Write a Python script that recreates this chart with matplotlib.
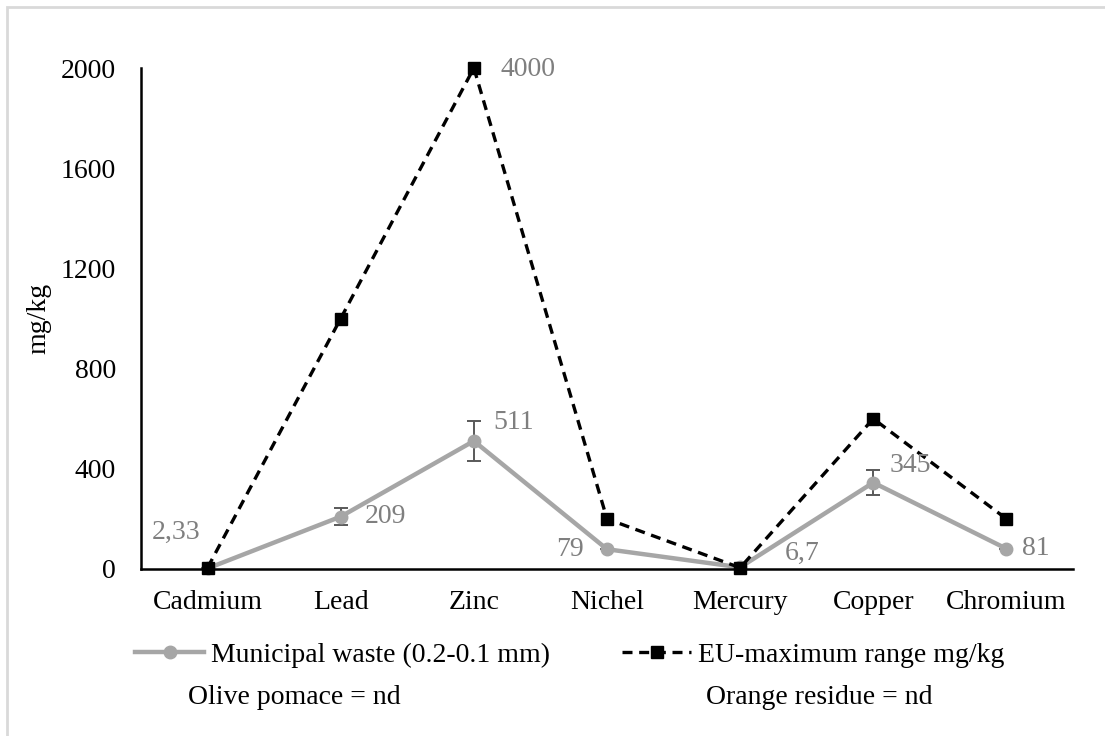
import matplotlib; matplotlib.use("Agg")
import matplotlib.pyplot as plt
from matplotlib.lines import Line2D
from matplotlib.patches import Rectangle

metals = ["Cadmium", "Lead", "Zinc", "Nichel", "Mercury", "Copper", "Chromium"]
municipal = [2.33, 209, 511, 79, 6.7, 345, 81]
municipal_err = [0, 34, 80, 0, 0, 50, 0]
municipal_lbl = ["2,33", "209", "511", "79", "6,7", "345", "81"]
eu_max = [5, 1000, 2000, 200, 5, 600, 200]
eu_lbl_zinc = "4000"
yticks = [0, 400, 800, 1200, 1600, 2000]

plt.rcParams["font.family"] = ["Liberation Serif", "DejaVu Serif"]
GRAY, LBL = "#a6a6a6", "#7f7f7f"
FS = 20

fig = plt.figure(figsize=(11.05, 7.36), dpi=100)
ax = fig.add_axes([141/1105, 1-569/736, (1073-141)/1105, (569-68)/736])
x = range(len(metals))

ax.errorbar(x, municipal, yerr=municipal_err, color=GRAY, lw=3.2, marker="o", ms=9,
            ecolor="#595959", elinewidth=1.4, capsize=5, capthick=1.4, zorder=2)
ax.plot(x, eu_max, color="black", ls=(0, (3, 2)), lw=2.4, marker="s", ms=8.5, zorder=3)

# label offsets in points (dx, dy, ha)
offs = [(-5, 26, "right"), (17, 0, "left"), (14, 13, "left"), (-17, 0, "right"),
        (32, 10, "left"), (12, 12, "left"), (11, 0, "left")]
for i, (dx, dy, ha) in enumerate(offs):
    ax.annotate(municipal_lbl[i], (i, municipal[i]), xytext=(dx, dy), textcoords="offset points",
                ha=ha, va="center", fontsize=FS, color=LBL, annotation_clip=False)
ax.annotate(eu_lbl_zinc, (2, eu_max[2]), xytext=(19, -1), textcoords="offset points",
            ha="left", va="center", fontsize=FS, color=LBL, annotation_clip=False)

ax.set_xlim(-0.5, 6.5)
ax.set_ylim(0, 2000)
ax.set_yticks(yticks)
ax.set_xticks(list(x))
ax.set_xticklabels(metals, fontsize=FS)
ax.tick_params(axis="y", labelsize=FS, length=0, pad=18)
ax.tick_params(axis="x", length=0, pad=15)
for s in ("top", "right"):
    ax.spines[s].set_visible(False)
for s in ("left", "bottom"):
    ax.spines[s].set_linewidth(1.8)
for a in ax.lines: a.set_clip_on(False)
ax.set_ylabel("mg/kg", fontsize=20, labelpad=7)

h1 = Line2D([], [], color=GRAY, lw=3.2, marker="o", ms=9)
h2 = Line2D([], [], color="black", ls=(0, (3, 2)), lw=2.4, marker="s", ms=8.5)
for h, t, x0 in ((h1, "Municipal waste (0.2-0.1 mm)", 135), (h2, "EU-maximum range mg/kg", 622)):
    fig.legend([h], [t], loc="center left", bbox_to_anchor=(x0/1105, 1-655/736), frameon=False,
               fontsize=FS, handlelength=2.5, handletextpad=0.25, borderpad=0, borderaxespad=0)
fig.text(188/1105, 1-698/736, "Olive pomace = nd", fontsize=FS, va="center")
fig.text(706/1105, 1-698/736, "Orange residue = nd", fontsize=FS, va="center")

fig.patches.append(Rectangle((7/1105, -0.1), 1.2, 1-7/736+0.1, transform=fig.transFigure,
                             fill=False, edgecolor="#d9d9d9", lw=2))
fig.savefig("out.png")
